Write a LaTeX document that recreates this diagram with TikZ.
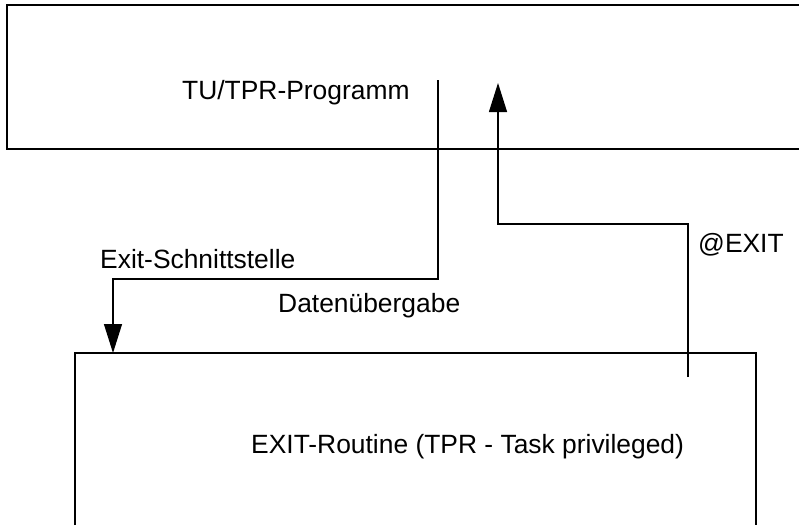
\documentclass[tikz,border=0pt]{standalone}
\usepackage{fontspec}
\setmainfont{Liberation Sans}
\usetikzlibrary{arrows.meta}
\tikzset{
  line/.style={line width=1.2pt, line join=miter},
  arr/.style={line, -{Triangle[length=29pt,width=18pt]}},
  lbl/.style={anchor=base west, inner sep=0pt, font=\fontsize{26.4}{30}\selectfont}
}
\begin{document}
\begin{tikzpicture}[x=1pt,y=-1pt]
\useasboundingbox (0,0) rectangle (799,525);
% top box (open to the right)
\draw[line] (799,5) -- (7,5) -- (7,149) -- (799,149);
% bottom box (open at the bottom)
\draw[line] (75,525) -- (75,353) -- (756,353) -- (756,525);
% labels
\node[lbl] (tprog) at (182,99) {TU/TPR-Programm};
\node[lbl] (exits) at (100,268) {Exit-Schnittstelle};
\node[lbl] (daten) at (278,312) {Datenübergabe};
\node[lbl] (atexit) at (698,252) {@EXIT};
\node[lbl] (routine) at (251,453) {EXIT-Routine (TPR - Task privileged)};
% connector coordinates
\coordinate (s1) at (438,80);
\coordinate (k1) at (113,279);
\coordinate (e1) at (113,353);
\coordinate (s2) at (688,377);
\coordinate (k2) at (498,224);
\coordinate (e2) at (498,83);
% connectors
\draw[arr] (s1) |- (k1) -- (e1);
\draw[arr] (s2) |- (k2) -- (e2);
\end{tikzpicture}
\end{document}
